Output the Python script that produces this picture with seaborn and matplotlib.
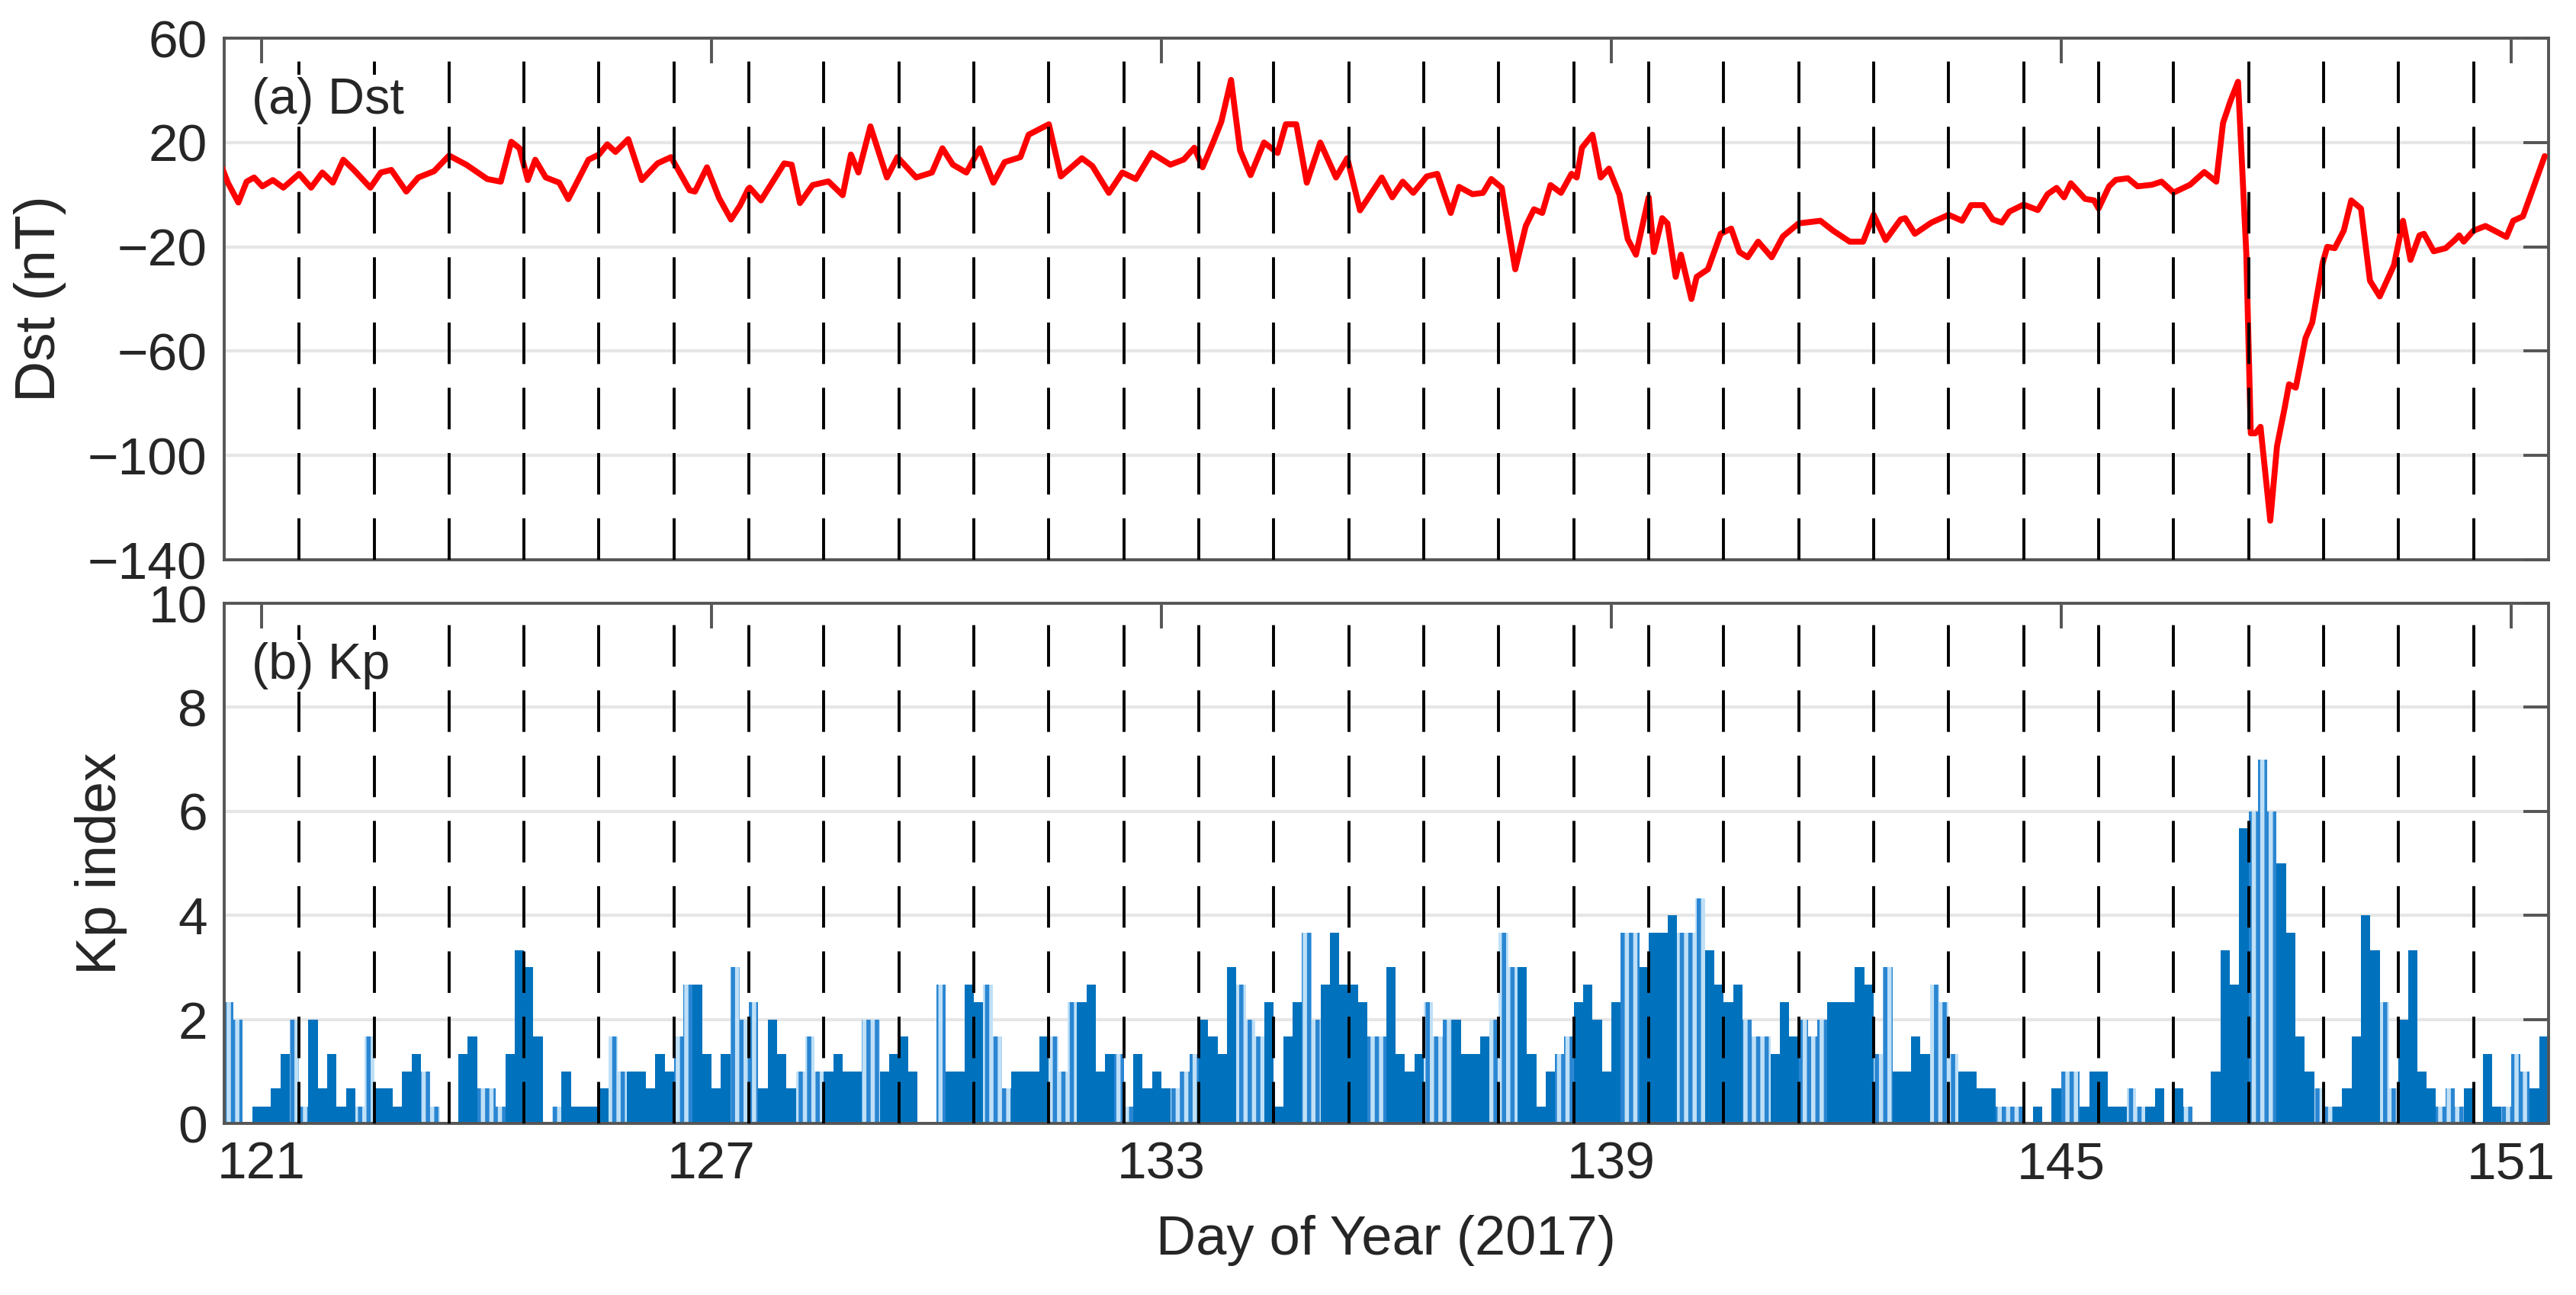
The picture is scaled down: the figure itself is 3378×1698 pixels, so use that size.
import numpy as np
import pandas as pd
import matplotlib
matplotlib.use("Agg")
import matplotlib.pyplot as plt
import seaborn as sns

# Dst (nT) at irregular times (day of year)
dst_day = [
    120.45, 120.55, 120.69, 120.80, 120.90, 121.01, 121.15, 121.29, 121.50, 121.66,
    121.81, 121.95, 122.09, 122.23, 122.45, 122.59, 122.73, 122.93, 123.09, 123.30,
    123.50, 123.73, 124.01, 124.19, 124.33, 124.44, 124.55, 124.65, 124.79, 124.97,
    125.09, 125.36, 125.50, 125.61, 125.72, 125.89, 126.07, 126.28, 126.46, 126.71,
    126.78, 126.94, 127.10, 127.26, 127.38, 127.49, 127.51, 127.66, 127.97, 128.07,
    128.18, 128.35, 128.56, 128.75, 128.86, 128.96, 129.12, 129.34, 129.48, 129.73,
    129.94, 130.08, 130.22, 130.40, 130.58, 130.76, 130.91, 131.12, 131.23, 131.50,
    131.66, 131.94, 132.08, 132.30, 132.48, 132.66, 132.87, 133.12, 133.30, 133.44,
    133.55, 133.69, 133.80, 133.93, 134.05, 134.19, 134.37, 134.55, 134.66, 134.80,
    134.94, 135.12, 135.33, 135.48, 135.65, 135.94, 136.08, 136.22, 136.36, 136.54,
    136.68, 136.86, 136.97, 137.15, 137.29, 137.40, 137.54, 137.72, 137.86, 137.97,
    138.08, 138.19, 138.33, 138.47, 138.54, 138.61, 138.75, 138.86, 138.97, 139.11,
    139.22, 139.33, 139.50, 139.57, 139.68, 139.75, 139.86, 139.93, 140.07, 140.14,
    140.29, 140.46, 140.60, 140.71, 140.82, 140.96, 141.14, 141.29, 141.50, 141.79,
    141.96, 142.18, 142.36, 142.50, 142.66, 142.86, 142.92, 143.05, 143.27, 143.50,
    143.68, 143.80, 143.96, 144.09, 144.21, 144.31, 144.50, 144.69, 144.82, 144.94,
    145.04, 145.13, 145.32, 145.44, 145.50, 145.64, 145.73, 145.89, 146.02, 146.21,
    146.34, 146.50, 146.72, 146.91, 147.07, 147.16, 147.26, 147.36, 147.47, 147.53,
    147.59, 147.66, 147.79, 147.88, 147.98, 148.04, 148.13, 148.26, 148.35, 148.49,
    148.55, 148.65, 148.77, 148.87, 149.00, 149.12, 149.25, 149.44, 149.50, 149.56,
    149.66, 149.78, 149.84, 149.97, 150.13, 150.25, 150.31, 150.37, 150.50, 150.66,
    150.78, 150.94, 151.03, 151.16, 151.29, 151.45,
]
dst_val = [
    12, 4.6, -3, 5, 6.6, 3.2, 5.6, 2.7, 8, 2.7,
    8.5, 4.6, 13.4, 9.5, 2.7, 8.5, 9.5, 1.2, 6.6, 9,
    15, 11.5, 6, 5, 20.3, 17.8, 5.6, 13.4, 6.6, 4.6,
    -1.7, 13.4, 15.4, 19.3, 16.4, 21.3, 5.6, 12, 14.4, 1.7,
    1.2, 10.5, -1.2, -9.5, -4.2, 2.2, 2.7, -2.2, 12, 11.5,
    -3.2, 3.7, 5.1, -0.2, 15.4, 8.5, 26.2, 6.6, 14.4, 6.6,
    8.5, 17.8, 11.5, 8.5, 17.8, 4.6, 12.5, 14.4, 23, 27,
    7, 14, 11, 0.7, 8.5, 6, 16, 11.5, 13.5, 18,
    10.5, 20, 28, 44, 17, 7.5, 20, 16, 27, 27,
    4.6, 20, 6.6, 14, -6, 6.6, -1, 5, 0.7, 7,
    8, -7, 3, 0.2, 0.7, 6, 2.7, -28.6, -12, -5.6,
    -7, 3.7, 0.7, 8, 6.6, 18, 23, 6.6, 10, 0,
    -17, -23, -1, -22, -9, -11, -31.5, -23, -40, -31.5,
    -28.6, -15, -13, -22, -24, -18, -24, -16, -11, -10,
    -13.8, -18, -18, -7.7, -17.4, -9.5, -9, -15, -10.7, -7.7,
    -10, -4, -4, -9.5, -10.7, -6.5, -3.8, -5.9, 0.2, 2.6,
    -1, 4.4, -1.6, -2.2, -5.3, 3.2, 5.7, 6.3, 3.2, 3.8,
    5, 0.8, 3.8, 8.7, 5, 27.5, 36, 43.3, -22.3, -91.5,
    -91.5, -89, -125, -96.4, -82, -72.7, -74, -55, -49, -26,
    -20, -20.5, -13.8, -2.2, -5.3, -33, -39, -27, -18.6, -10,
    -25, -15.6, -15, -21.7, -20.5, -17.4, -15.6, -18, -13.8, -12,
    -13.8, -16.2, -10, -8.3, 2, 14.8,
]

# Kp, 3-hourly from day 120.5, and which bars are drawn in the light style
kp_val = [
    2.33, 2.0, 0, 0.33, 0.33, 0.67, 1.33, 2.0, 0.33, 2.0,
    0.67, 1.33, 0.33, 0.67, 0.33, 1.67, 0.67, 0.67, 0.33, 1.0,
    1.33, 1.0, 0.33, 0, 0, 1.33, 1.67, 0.67, 0.67, 0.33,
    1.33, 3.33, 3.0, 1.67, 0, 0.33, 1.0, 0.33, 0.33, 0.33,
    0.67, 1.67, 1.0, 1.0, 1.0, 0.67, 1.33, 1.0, 1.67, 2.67,
    2.67, 1.33, 0.67, 1.33, 3.0, 2.0, 2.33, 0.67, 2.0, 1.33,
    0.67, 1.0, 1.67, 1.0, 1.0, 1.33, 1.0, 1.0, 2.0, 2.0,
    1.0, 1.33, 1.67, 1.0, 0, 0, 2.67, 1.0, 1.0, 2.67,
    2.33, 2.67, 1.67, 0.67, 1.0, 1.0, 1.0, 1.67, 1.67, 1.0,
    2.33, 2.33, 2.67, 1.0, 1.33, 1.33, 0.33, 1.33, 0.67, 1.0,
    0.67, 0.67, 1.0, 1.33, 2.0, 1.67, 1.33, 3.0, 2.67, 2.0,
    1.67, 2.33, 0.33, 1.67, 2.33, 3.67, 2.0, 2.67, 3.67, 2.67,
    2.67, 2.33, 1.67, 1.67, 3.0, 1.33, 1.0, 1.33, 2.33, 1.67,
    2.0, 2.0, 1.33, 1.33, 1.67, 2.0, 3.67, 3.0, 3.0, 1.33,
    0.33, 1.0, 1.33, 1.67, 2.33, 2.67, 2.0, 1.0, 2.33, 3.67,
    3.67, 3.0, 3.67, 3.67, 4.0, 3.67, 3.67, 4.33, 3.33, 2.67,
    2.33, 2.67, 2.0, 1.67, 1.67, 1.33, 2.33, 1.67, 2.0, 1.67,
    2.0, 2.33, 2.33, 2.33, 3.0, 2.67, 1.33, 3.0, 1.0, 1.0,
    1.67, 1.33, 2.67, 2.33, 1.33, 1.0, 1.0, 0.67, 0.67, 0.33,
    0.33, 0.33, 0, 0.33, 0, 0.67, 1.0, 1.0, 0.33, 1.0,
    1.0, 0.33, 0.33, 0.67, 0.33, 0.33, 0.67, 0, 0.67, 0.33,
    0, 0, 1.0, 3.33, 2.67, 5.67, 6.0, 7.0, 6.0, 5.0,
    3.67, 1.67, 1.0, 0.67, 0.33, 0.33, 0.67, 1.67, 4.0, 3.33,
    2.33, 0.67, 2.0, 3.33, 1.0, 0.67, 0.33, 0.67, 0.33, 0.67,
    0, 1.33, 0.33, 0.33, 1.33, 1.0, 0.67, 1.67,
]
kp_light = [
    1, 1, 0, 0, 0, 0, 0, 1, 1, 0,
    0, 0, 0, 0, 1, 1, 0, 0, 0, 0,
    0, 1, 1, 0, 0, 0, 0, 1, 1, 1,
    0, 0, 0, 0, 0, 1, 0, 0, 0, 0,
    0, 1, 1, 0, 0, 0, 0, 0, 1, 1,
    0, 0, 0, 0, 1, 1, 1, 0, 0, 0,
    0, 1, 1, 1, 0, 0, 0, 0, 1, 1,
    0, 0, 0, 0, 0, 0, 1, 0, 0, 0,
    0, 1, 1, 1, 0, 0, 0, 0, 1, 1,
    1, 0, 0, 0, 0, 1, 1, 0, 0, 0,
    0, 1, 1, 1, 0, 0, 0, 0, 1, 1,
    1, 0, 0, 0, 0, 1, 1, 0, 0, 0,
    0, 0, 1, 1, 0, 0, 0, 0, 1, 1,
    1, 0, 0, 0, 0, 1, 1, 1, 0, 0,
    0, 0, 1, 1, 0, 0, 0, 0, 0, 1,
    1, 0, 0, 0, 0, 1, 1, 1, 0, 0,
    0, 0, 1, 1, 1, 0, 0, 0, 1, 1,
    1, 0, 0, 0, 0, 0, 1, 1, 0, 0,
    0, 0, 1, 1, 1, 0, 0, 0, 0, 1,
    1, 1, 0, 0, 0, 0, 1, 1, 0, 0,
    0, 0, 0, 1, 1, 0, 0, 0, 0, 1,
    0, 0, 0, 0, 0, 0, 1, 1, 1, 0,
    0, 0, 0, 1, 1, 0, 0, 0, 0, 0,
    1, 1, 0, 0, 0, 0, 1, 1, 1, 0,
    0, 0, 0, 1, 1, 1, 0, 0,
]
kp_start = 120.5
kp_step = 0.125

day_ticks = [121, 127, 133, 139, 145, 151]
dst_ticks = [60, 20, -20, -60, -100, -140]
kp_ticks = [0, 2, 4, 6, 8, 10]

sns.set_style("white")
plt.rcParams['font.family'] = ['Liberation Sans', 'DejaVu Sans']
plt.rcParams['axes.unicode_minus'] = True
plt.rcParams['hatch.linewidth'] = 2.0

fig = plt.figure(figsize=(16.89, 8.49), dpi=200)
ax1 = fig.add_axes([0.0870, 0.5677, 0.9023, 0.4028])
ax2 = fig.add_axes([0.0870, 0.1325, 0.9023, 0.4016])

dst = pd.DataFrame({"day": dst_day, "dst": dst_val})
sns.lineplot(data=dst, x="day", y="dst", ax=ax1, color="#ff0000", lw=2.8,
             sort=False, zorder=4)

kp = pd.DataFrame({"kp": kp_val, "light": kp_light})
kp["x"] = kp_start + kp.index * kp_step
dark = kp[kp.light == 0]
light = kp[kp.light == 1]
ax2.bar(dark.x, dark.kp, width=kp_step, align="edge", color="#0072BD",
        linewidth=0, zorder=2)
ax2.bar(light.x, light.kp, width=kp_step, align="edge", color="#bfe0f7",
        edgecolor="#2a86d2", hatch="|||", linewidth=0, zorder=2)

for ax, lim, ticks, lab in [(ax1, (-140, 60), dst_ticks, "Dst (nT)"),
                            (ax2, (0, 10), kp_ticks, "Kp index")]:
    ax.set_xlim(120.5, 151.5)
    ax.set_ylim(*lim)
    ax.set_yticks(ticks)
    ax.set_xticks(day_ticks)
    ax.yaxis.grid(True, color="#e6e6e6", lw=1.5, zorder=0)
    ax.set_axisbelow(True)
    for d in np.arange(121.5, 151.0, 1.0):
        ax.axvline(d, color="black", lw=1.4, ls=(0, (14, 8)), zorder=5)
    for s in ax.spines.values():
        s.set_color("#555555")
        s.set_linewidth(1.4)
    ax.tick_params(direction="in", length=12, width=1.4, color="#555555",
                   top=True, right=True, labelsize=25, pad=8)
    ax.set_ylabel(lab, fontsize=27, labelpad=10)
    ax.set_xlabel("")

ax1.tick_params(labelbottom=False)
ax2.set_xlabel("Day of Year (2017)", fontsize=26, labelpad=12)
ax1.text(0.012, 0.88, "(a) Dst", transform=ax1.transAxes, fontsize=24,
         va="center", zorder=6, bbox=dict(fc="white", ec="none", pad=1))
ax2.text(0.012, 0.88, "(b) Kp", transform=ax2.transAxes, fontsize=24,
         va="center", zorder=6, bbox=dict(fc="white", ec="none", pad=1))
fig.align_ylabels([ax1, ax2])

fig.savefig("out.png", dpi=200)
